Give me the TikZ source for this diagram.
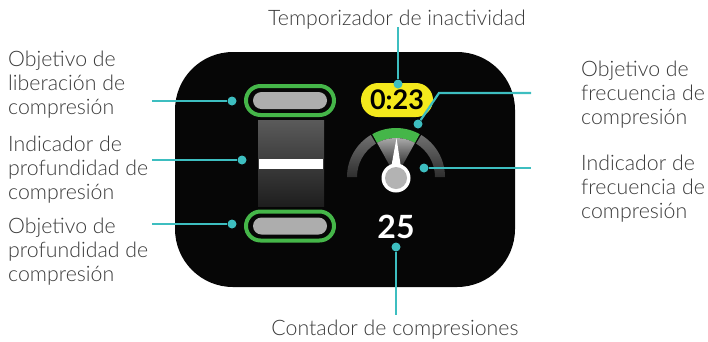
\documentclass[tikz,border=0pt]{standalone}
\usepackage{fontspec}
\setmainfont{Lato}[UprightFont=* Light, BoldFont=* Bold]
\definecolor{txt}{HTML}{3A3A3A}
\definecolor{callteal}{HTML}{3DBEC0}
\definecolor{screen}{HTML}{060606}
\definecolor{ringgreen}{HTML}{45B649}
\definecolor{pillgray}{HTML}{ADADAD}
\definecolor{timeryellow}{HTML}{F4E91C}
\definecolor{barhi}{HTML}{5A5A5A}
\definecolor{barlo}{HTML}{1E1E1E}
\definecolor{archi}{HTML}{707070}
\definecolor{arclo}{HTML}{2E2E2E}
\definecolor{pivotgray}{HTML}{B3B3B3}
\begin{document}
\begin{tikzpicture}[x=1pt,y=-1pt,
  % multi-line labels are anchored on the baseline of their last line
  lbl/.style={font=\fontsize{21.3}{24.3}\selectfont, text=txt, align=left, inner sep=0, anchor=base west},
  toplbl/.style={font=\fontsize{21.3}{24.3}\selectfont, text=txt, inner sep=0, anchor=base},
  callout/.style={draw=callteal, line width=2.2},
  dot/.style={circle, fill=callteal, inner sep=0, minimum size=9},
  ring/.style={draw=ringgreen, line width=4, rounded corners=14.5},
  pill/.style={fill=pillgray, rounded corners=8.5},
  arcseg/.style={top color=archi, bottom color=arclo},
]
\useasboundingbox (0,0) rectangle (708,341);

% device screen
\fill[screen, rounded corners=58] (175,52) rectangle (515,287);

% release target (top) and depth target (bottom)
\draw[ring] (246,86) rectangle (334,115);
\fill[pill] (253,92) rectangle (327,109);
\draw[ring] (246,211.5) rectangle (334,240.5);
\fill[pill] (253,217.5) rectangle (327,234.5);

% depth indicator bar
\shade[top color=barhi, bottom color=barlo] (258,120) rectangle (324,206);
\fill[white] (259,159) rectangle (323,169);

% inactivity timer
\node[fill=timeryellow, rounded corners=17, minimum width=72, minimum height=34, inner sep=0,
      font=\fontsize{27}{27}\bfseries\selectfont] (timer) at (397,100) {0:23};

% rate gauge
\begin{scope}[shift={(396,177)}]
  \shade[arcseg] (-180:49) arc[start angle=-180, end angle=-121, radius=49]
        -- (-121:39) arc[start angle=-121, end angle=-180, radius=39] -- cycle;
  \shade[arcseg] (-59:49) arc[start angle=-59, end angle=0, radius=49]
        -- (0:39) arc[start angle=0, end angle=-59, radius=39] -- cycle;
  \fill[ringgreen] (-119:49) arc[start angle=-119, end angle=-61, radius=49]
        -- (-61:39) arc[start angle=-61, end angle=-119, radius=39] -- cycle;
  \shade[top color=gray!62, bottom color=black] (0,0) -- (-119:39)
        arc[start angle=-119, end angle=-61, radius=39] -- cycle;
  \fill[white] (0.5,-39) -- (5.5,-6) -- (-5.5,-6) -- cycle;
  \fill[white] (0,1) circle[radius=14.5];
  \fill[pivotgray] (0,1) circle[radius=11];
\end{scope}

% compression counter
\node[text=white, inner sep=0, font=\fontsize{32}{32}\bfseries\selectfont] (count) at (396,227) {25};

% labels
\node[lbl] (relLbl) at (8,114.6) {Objetivo de\\liberación de\\compresión};
\node[lbl] (depthIndLbl) at (8,199.6) {Indicador de\\profundidad de\\compresión};
\node[lbl] (depthTgtLbl) at (8,281.6) {Objetivo de\\profundidad de\\compresión};
\node[lbl] (rateTgtLbl) at (581,124.6) {Objetivo de\\frecuencia de\\compresión};
\node[lbl] (rateIndLbl) at (581,218.6) {Indicador de\\frecuencia de\\compresión};
\node[toplbl] (timerLbl) at (397,25) {Temporizador de inactividad};
\node[toplbl] (countLbl) at (395,335) {Contador de compresiones};

% callout dots
\node[dot] (dRel) at (232,101) {};
\node[dot] (dDepthInd) at (242,160) {};
\node[dot] (dDepthTgt) at (232,224) {};
\node[dot] (dTimer) at (398,84) {};
\node[dot] (dRateTgt) at (418,124) {};
\node[dot] (dRateInd) at (424,168) {};
\node[dot] (dCount) at (396,247) {};

% callout ends
\coordinate (eRel) at (152,101);
\coordinate (eDepthInd) at (152,160);
\coordinate (eDepthTgt) at (152,224);
\coordinate (eTimer) at (398,27);
\coordinate (bRateTgt) at (439,93);
\coordinate (eRateTgt) at (531,93);
\coordinate (eRateInd) at (531,168);
\coordinate (eCount) at (396,315);

\draw[callout] (eRel) -- (dRel);
\draw[callout] (eDepthInd) -- (dDepthInd);
\draw[callout] (eDepthTgt) -- (dDepthTgt);
\draw[callout] (eTimer) -- (dTimer);
\draw[callout] (dRateTgt) -- (bRateTgt) -- (eRateTgt);
\draw[callout] (dRateInd) -- (eRateInd);
\draw[callout] (dCount) -- (eCount);
\end{tikzpicture}
\end{document}
